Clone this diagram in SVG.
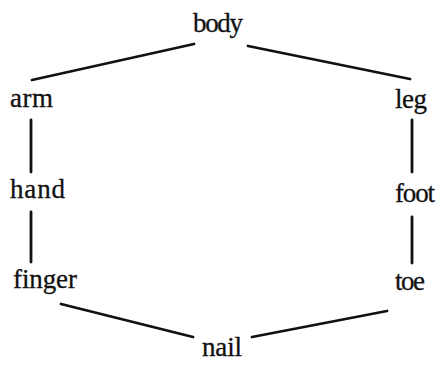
<svg xmlns="http://www.w3.org/2000/svg" width="439" height="365" viewBox="0 0 439 365">
<style>
text{font-family:"Liberation Serif","Times New Roman",serif;font-size:27px;fill:#111;stroke:#111;stroke-width:0.3}
.c line{stroke:#111;stroke-width:2.8;stroke-linecap:round}
</style>
<rect width="439" height="365" fill="#fff"/>
<g class="c" id="connectors">
<line x1="194" y1="44" x2="32" y2="80"/>
<line x1="248" y1="46" x2="410" y2="79"/>
<line x1="31" y1="120" x2="31" y2="172"/>
<line x1="31" y1="212" x2="31" y2="262"/>
<line x1="412" y1="120" x2="412" y2="172"/>
<line x1="412" y1="217" x2="412" y2="263"/>
<line x1="61" y1="304" x2="193" y2="337"/>
<line x1="387" y1="311" x2="252" y2="337"/>
</g>
<g id="body"><text x="193" y="32" textLength="50">body</text></g>
<g id="arm"><text x="10" y="107" textLength="43">arm</text></g>
<g id="leg"><text x="395" y="108" textLength="32">leg</text></g>
<g id="hand"><text x="10" y="198" textLength="55">hand</text></g>
<g id="foot"><text x="395" y="202" textLength="40">foot</text></g>
<g id="finger"><text x="13" y="288" textLength="64">finger</text></g>
<g id="toe"><text x="395" y="290" textLength="30">toe</text></g>
<g id="nail"><text x="202" y="356" textLength="40">nail</text></g>
</svg>
